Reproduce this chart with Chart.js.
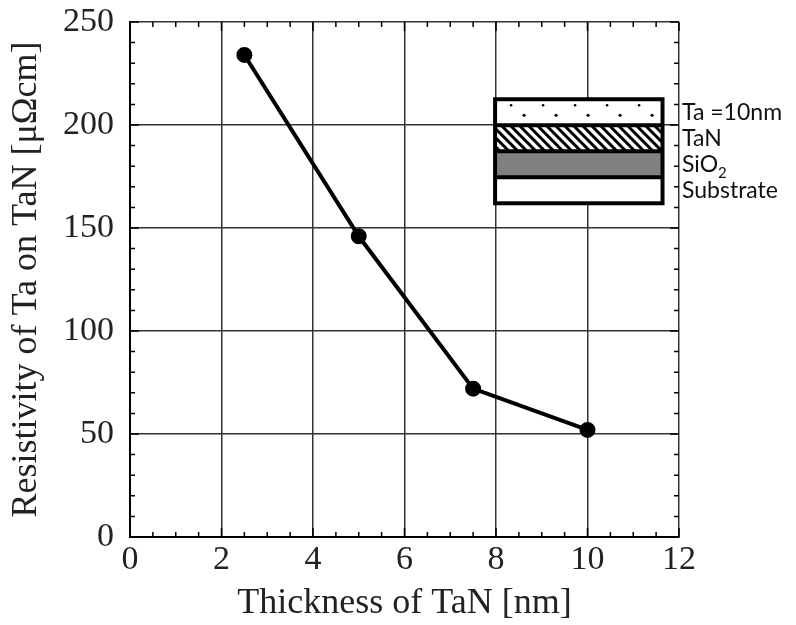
<!DOCTYPE html>
<html>
<head>
<meta charset="utf-8">
<script src="https://cdn.jsdelivr.net/npm/chart.js@4.4.1/dist/chart.umd.min.js"></script>
<style>
	html, body { margin: 0; padding: 0; background: #fff; }
	#wrap { width: 796px; height: 625px; }
</style>
</head>
<body>
<div id="wrap"><canvas id="chart" width="796" height="625"></canvas></div>
<script>
const thickness = [2.5, 5, 7.5, 10];
const resistivity = [234, 146, 72, 52];
const xTicks = [0, 2, 4, 6, 8, 10, 12];
const yTicks = [0, 50, 100, 150, 200, 250];
const layerLabels = ['Ta =10nm', 'TaN', 'SiO', 'Substrate'];

const serif = '"Liberation Serif", "Times New Roman", serif';
const labelFont = 'Lato, "Open Sans", sans-serif';

// inward major/minor ticks on all four sides
const tickMarks = {
	id: 'tickMarks',
	afterDraw(chart) {
		const { ctx, chartArea: a, scales: { x, y } } = chart;
		ctx.save();
		ctx.strokeStyle = '#000';
		ctx.lineWidth = 1.5;
		ctx.beginPath();
		for (let v = 0; v <= 12.001; v += 0.5) {
			const px = x.getPixelForValue(v);
			const len = Math.abs(v % 2) < 0.001 ? 9 : 5;
			ctx.moveTo(px, a.bottom); ctx.lineTo(px, a.bottom - len);
			ctx.moveTo(px, a.top); ctx.lineTo(px, a.top + len);
		}
		for (let v = 0; v <= 250; v += 10) {
			const py = y.getPixelForValue(v);
			const len = v % 50 === 0 ? 9 : 5;
			ctx.moveTo(a.left, py); ctx.lineTo(a.left + len, py);
			ctx.moveTo(a.right, py); ctx.lineTo(a.right - len, py);
		}
		ctx.stroke();
		ctx.restore();
	}
};

// layered structure sketch in the upper right
const stackInset = {
	id: 'stackInset',
	afterDraw(chart) {
		const { ctx, chartArea: a, scales: { x, y } } = chart;
		const left = x.getPixelForValue(7.98);
		const right = x.getPixelForValue(11.64);
		const top = y.getPixelForValue(212.5);
		const bottom = y.getPixelForValue(162);
		const h = (bottom - top) / 4;
		ctx.save();
		ctx.fillStyle = '#fff';
		ctx.fillRect(left, top, right - left, bottom - top);

		// Ta: dots
		ctx.fillStyle = '#000';
		for (let px = left + 16; px < right - 4; px += 32) {
			ctx.beginPath(); ctx.arc(px, top + 6, 1.3, 0, Math.PI * 2); ctx.fill();
			ctx.beginPath(); ctx.arc(px + 13, top + 16, 1.6, 0, Math.PI * 2); ctx.fill();
		}

		// TaN: hatch
		ctx.save();
		ctx.beginPath();
		ctx.rect(left, top + h, right - left, h);
		ctx.clip();
		ctx.strokeStyle = '#000';
		ctx.lineWidth = 3;
		ctx.beginPath();
		for (let px = left - 30; px < right + 30; px += 9) {
			ctx.moveTo(px, top + h); ctx.lineTo(px + h, top + 2 * h);
		}
		ctx.stroke();
		ctx.restore();

		// SiO2: gray
		ctx.fillStyle = '#808080';
		ctx.fillRect(left, top + 2 * h, right - left, h);

		// outlines
		ctx.strokeStyle = '#000';
		ctx.lineWidth = 4;
		ctx.strokeRect(left, top, right - left, bottom - top);
		ctx.beginPath();
		for (let i = 1; i < 4; i++) {
			ctx.moveTo(left, top + i * h); ctx.lineTo(right, top + i * h);
		}
		ctx.stroke();

		// labels
		ctx.fillStyle = '#111';
		ctx.font = '23px ' + labelFont;
		ctx.textBaseline = 'middle';
		ctx.textAlign = 'left';
		const tx = a.right + 3;
		layerLabels.forEach((t, i) => {
			const cy = top + (i + 0.5) * h;
			ctx.fillText(t, tx, cy);
			if (i === 2) {
				const w = ctx.measureText(t).width;
				ctx.font = '15px ' + labelFont;
				ctx.fillText('2', tx + w, cy + 9);
				ctx.font = '23px ' + labelFont;
			}
		});
		ctx.restore();
	}
};

new Chart(document.getElementById('chart'), {
	type: 'scatter',
	data: {
		datasets: [
			{
				data: thickness.map((t, i) => ({ x: t, y: resistivity[i] })),
				showLine: true,
				borderColor: '#000',
				backgroundColor: '#000',
				borderWidth: 4,
				pointRadius: 6,
				pointHoverRadius: 6,
			},
		],
	},
	options: {
		responsive: false,
		animation: false,
		layout: { padding: { top: 22, right: 117, left: 0, bottom: 0 } },
		plugins: {
			legend: { display: false },
			tooltip: { enabled: false },
		},
		scales: {
			x: {
				type: 'linear',
				min: 0,
				max: 12,
				afterBuildTicks: (s) => { s.ticks = xTicks.map((v) => ({ value: v })); },
				afterFit: (s) => { s.height = 88; s.paddingLeft = 0; s.paddingRight = 0; },
				grid: { color: '#333', lineWidth: 1.5, drawTicks: false },
				border: { color: '#000', width: 2 },
				ticks: { color: '#222', font: { family: serif, size: 34 }, padding: 3 },
				title: {
					display: true,
					text: 'Thickness of TaN [nm]',
					color: '#222',
					font: { family: serif, size: 36 },
					padding: { top: 0, bottom: 0 },
				},
			},
			y: {
				min: 0,
				max: 250,
				afterBuildTicks: (s) => { s.ticks = yTicks.map((v) => ({ value: v })); },
				afterFit: (s) => { s.width = 130; s.paddingTop = 0; s.paddingBottom = 0; },
				grid: { color: '#333', lineWidth: 1.5, drawTicks: false },
				border: { color: '#000', width: 2 },
				ticks: { color: '#222', font: { family: serif, size: 34 }, padding: 16 },
				title: {
					display: true,
					text: 'Resistivity of Ta on TaN [μΩcm]',
					color: '#222',
					font: { family: serif, size: 36 },
					padding: { top: 5, bottom: 0 },
				},
			},
		},
	},
	plugins: [tickMarks, stackInset],
});
</script>
</body>
</html>
